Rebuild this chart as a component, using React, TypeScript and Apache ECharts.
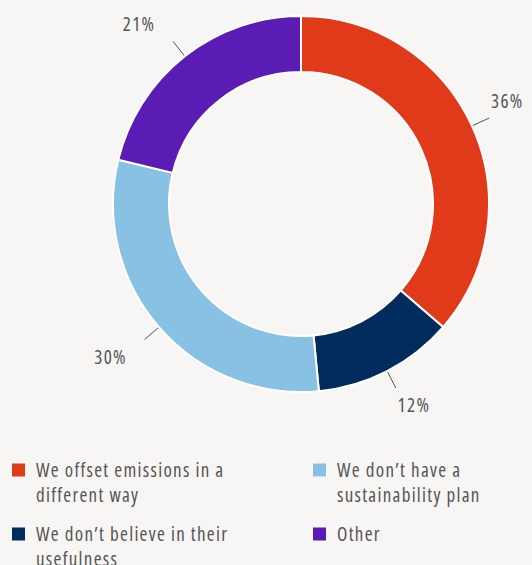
import React, { useEffect, useRef } from "react";
import * as echarts from "echarts";

const categories = [
  "We offset emissions in a different way",
  "We don’t believe in their usefulness",
  "We don’t have a sustainability plan",
  "Other",
];
const values = [36, 12, 30, 21];
const valueLabels = ["36%", "12%", "30%", "21%"];
const legendLabels = [
  "We offset emissions in a\ndifferent way",
  "We don’t believe in their\nusefulness",
  "We don’t have a\nsustainability plan",
  "Other\n ",
];
const colors = ["#e03a1b", "#022b5e", "#89c1e5", "#5a1cb4"];

const FONT = "'Open Sans', 'Noto Sans', sans-serif";
const BG = "#f7f6f4";

export default function App() {
  const ref = useRef<HTMLDivElement>(null);
  useEffect(() => {
    if (!ref.current) return;
    const chart = echarts.init(ref.current, null, { renderer: "svg" });
    const legendCommon = {
      orient: "vertical",
      itemWidth: 13,
      itemHeight: 50,
      itemGap: 14,
      padding: 0,
      height: 200,
      selectedMode: false,
      icon: "path://M0 0h0.01v0.01H0Z M0 6.5H13V19.5H0Z M0 49.99h0.01V50H0Z",
      itemStyle: { borderWidth: 0 },
      formatter: (name: string) => legendLabels[categories.indexOf(name)],
      textStyle: {
        fontFamily: FONT,
        fontSize: 19,
        lineHeight: 25,
        color: "#555555",
        padding: [0, 0, 0, 6],
      },
    };
    chart.setOption({
      animation: false,
      backgroundColor: BG,
      legend: [
        { ...legendCommon, left: 12, top: 457, data: [categories[0], categories[1]] },
        { ...legendCommon, left: 313, top: 457, data: [categories[2], categories[3]] },
      ],
      series: [
        {
          type: "pie",
          center: [301, 204],
          radius: [132, 188],
          startAngle: 90,
          clockwise: true,
          avoidLabelOverlap: false,
          emphasis: { disabled: true },
          itemStyle: { borderColor: "#ffffff", borderWidth: 2 },
          label: {
            show: true,
            position: "outside",
            formatter: (p: any) => valueLabels[p.dataIndex],
            color: "#555555",
            fontFamily: FONT,
            fontSize: 19,
          },
          labelLine: {
            show: true,
            length: 19,
            length2: 0,
            lineStyle: { color: "#555555", width: 1 },
          },
          labelLayout: (params: any) => {
            const pts = params.labelLinePoints;
            if (!pts) return {};
            const p0 = pts[0];
            const p1 = pts[1];
            const sx = Math.sign(p1[0] - p0[0]);
            const sy = Math.sign(p1[1] - p0[1]);
            return {
              x: p1[0] + sx * 26 - 8,
              y: p1[1] + sy * 17,
              align: "center",
              verticalAlign: "middle",
              labelLinePoints: [p0, p1, p1],
            };
          },
          data: categories.map((name, i) => ({
            name,
            value: values[i],
            itemStyle: { color: colors[i] },
          })),
        },
      ],
    });
    return () => chart.dispose();
  }, []);
  return (
    <>
      <style>{`body{margin:0;background:${BG}} #root text{font-stretch:75% !important; letter-spacing:1.3px}`}</style>
      <div
        ref={ref}
        style={{ position: "fixed", left: 0, top: 0, width: 532, height: 565 }}
      />
    </>
  );
}
